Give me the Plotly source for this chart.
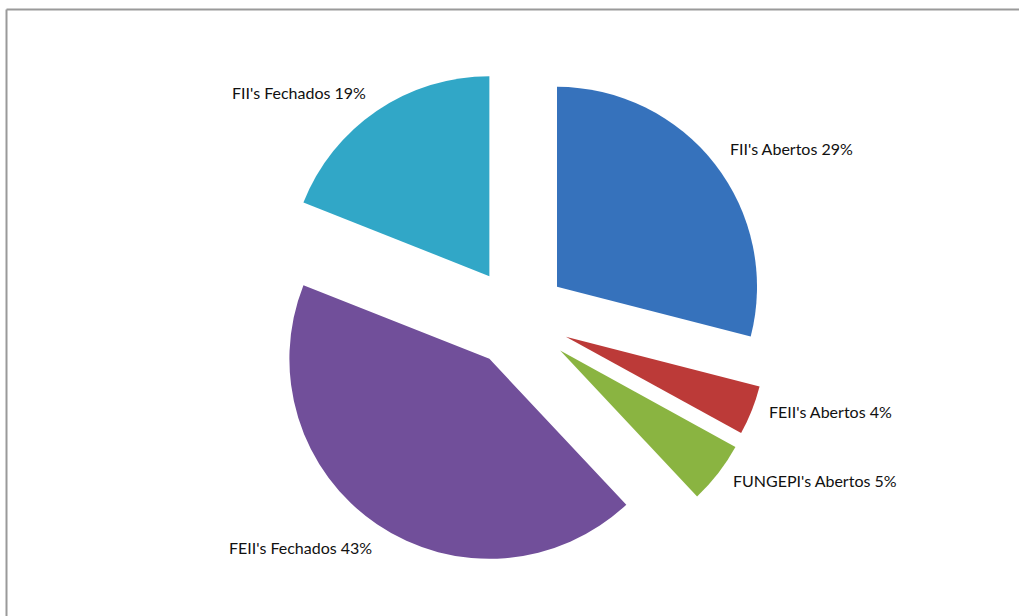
import plotly.graph_objects as go

labels = ["FII's Abertos", "FEII's Abertos", "FUNGEPI's Abertos", "FEII's Fechados", "FII's Fechados"]
values = [29, 4, 5, 43, 19]
colors = ["#3672BC", "#BC3A38", "#8AB441", "#714F9A", "#31A7C7"]
pulls = [0.25, 0.26, 0.27, 0.25, 0.25]

W, H = 1019, 616
label_pos = [(791, 148), (830, 412), (815, 480), (300, 547), (299, 92)]

cx, cy, half = 517.5, 317.5, 254
fig = go.Figure()
fig.add_trace(go.Pie(
    labels=labels, values=values, sort=False, direction="clockwise", rotation=0,
    marker=dict(colors=colors, line=dict(width=0)),
    pull=pulls, textinfo="none", hoverinfo="label+percent",
    domain=dict(x=[(cx - half) / W, (cx + half) / W],
                y=[(H - cy - half) / H, (H - cy + half) / H]),
    showlegend=False,
))

total = sum(values)
for lab, val, (px, py) in zip(labels, values, label_pos):
    fig.add_annotation(x=px / W, y=1 - py / H, xref="paper", yref="paper",
                       xanchor="center", yanchor="middle",
                       text=f"{lab} {round(100 * val / total)}%", showarrow=False,
                       font=dict(family="Lato, Open Sans, sans-serif", size=16, color="#111"))

# chart-area border (left and top edges visible)
fig.add_shape(type="line", xref="paper", yref="paper",
              x0=6.5 / W, x1=1.0, y0=1 - 9.5 / H, y1=1 - 9.5 / H,
              line=dict(color="#9a9a9a", width=2))
fig.add_shape(type="line", xref="paper", yref="paper",
              x0=6.5 / W, x1=6.5 / W, y0=0, y1=1 - 9.5 / H,
              line=dict(color="#9a9a9a", width=2))

fig.update_layout(width=W, height=H, margin=dict(l=0, r=0, t=0, b=0),
                  paper_bgcolor="white", plot_bgcolor="white")
fig.write_html("out.html", config={"displayModeBar": False},
               post_script="document.body.style.margin='0';document.body.style.overflow='hidden';")
